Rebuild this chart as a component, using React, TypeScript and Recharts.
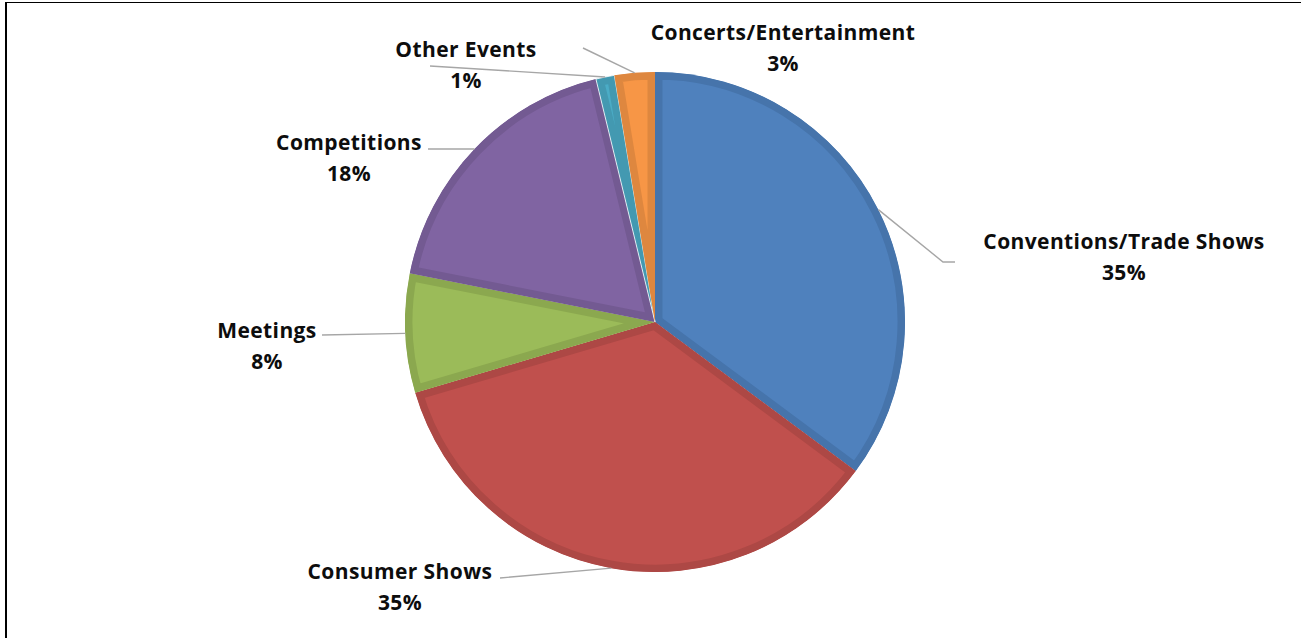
import React from 'react';
import { PieChart, Pie, Cell, Sector } from 'recharts';

const categories = [
  'Conventions/Trade Shows',
  'Consumer Shows',
  'Meetings',
  'Competitions',
  'Other Events',
  'Concerts/Entertainment',
];
const shares = [35.2, 35.3, 7.7, 18.1, 1.2, 2.6];

const fills = ['#4F81BD', '#C0504D', '#9BBB59', '#8064A2', '#4BACC6', '#F79646'];
const edges = ['#4674AB', '#AD4845', '#8BA84F', '#735A92', '#4399B1', '#DE873F'];

// label text centre + leader line bends, relative to pie centre
const labelLayout = [
  { tx: 469, ty: -81, bend: [288, -60], end: [300, -60] },
  { tx: -255, ty: 249, bend: [-155, 256], end: [-155, 256] },
  { tx: -388, ty: 8, bend: [-333, 13], end: [-333, 13] },
  { tx: -306, ty: -180, bend: [-227, -173], end: [-227, -173] },
  { tx: -189, ty: -273, bend: [-225, -256], end: [-225, -256] },
  { tx: 128, ty: -290, bend: [-72, -274], end: [-72, -274] },
];

const chartData = categories.map((name, i) => ({ name, value: shares[i] }));

const RAD = Math.PI / 180;

const SliceShape = (props: any) => {
  const { index, fill, stroke, strokeWidth, ...rest } = props;
  const id = `slice-clip-${index}`;
  // thin slices get a white outline, like the reference
  const thin = Math.abs(rest.endAngle - rest.startAngle) < 6;
  return (
    <g>
      <defs>
        <clipPath id={id}>
          <Sector {...rest} />
        </clipPath>
      </defs>
      <Sector
        {...rest}
        fill={fill}
        stroke={edges[index]}
        strokeWidth={15}
        clipPath={`url(#${id})`}
      />
      {thin && <Sector {...rest} fill="none" stroke="#ffffff" strokeWidth={0.8} />}
    </g>
  );
};

const textStyle = {
  fontFamily: "'Open Sans', sans-serif",
  fontWeight: 700,
  fontSize: 21,
  letterSpacing: 0.4,
};

const renderLabel = (props: any) => {
  const { cx, cy, midAngle, outerRadius, percent, index, name } = props;
  const lay = labelLayout[index];
  const sx = cx + outerRadius * Math.cos(-midAngle * RAD);
  const sy = cy + outerRadius * Math.sin(-midAngle * RAD);
  const bx = cx + lay.bend[0];
  const by = cy + lay.bend[1];
  const ex = cx + lay.end[0];
  const ey = cy + lay.end[1];
  const tx = cx + lay.tx;
  const ty = cy + lay.ty;
  return (
    <g key={`lbl-${index}`}>
      <polyline
        points={`${sx},${sy} ${bx},${by} ${ex},${ey}`}
        fill="none"
        stroke="#A6A6A6"
        strokeWidth={1.4}
      />
      <text x={tx} y={ty} textAnchor="middle" dominantBaseline="central" fill="#0D0D0D" style={textStyle}>
        {name}
      </text>
      <text x={tx} y={ty + 31} textAnchor="middle" dominantBaseline="central" fill="#0D0D0D" style={textStyle}>
        {`${Math.round(percent * 100)}%`}
      </text>
    </g>
  );
};

export default function App() {
  return (
    <div style={{ position: 'fixed', left: 0, top: 0, width: 1301, height: 638, background: '#fff', overflow: 'hidden' }}>
      <div
        style={{
          position: 'absolute',
          left: 5,
          top: 2,
          width: 1400,
          height: 1000,
          borderLeft: '2px solid #000',
          borderTop: '1.5px solid #000',
        }}
      />
      <PieChart
        width={1301}
        height={638}
        margin={{ top: 0, right: 0, bottom: 0, left: 0 }}
        style={{ position: 'absolute', left: 0, top: 0 }}
      >
        <Pie
          data={chartData}
          dataKey="value"
          nameKey="name"
          cx={655}
          cy={322}
          outerRadius={250}
          startAngle={90}
          endAngle={-270}
          isAnimationActive={false}
          labelLine={false}
          label={renderLabel}
          shape={SliceShape}
        >
          {chartData.map((d, i) => (
            <Cell key={d.name} fill={fills[i]} />
          ))}
        </Pie>
      </PieChart>
    </div>
  );
}
